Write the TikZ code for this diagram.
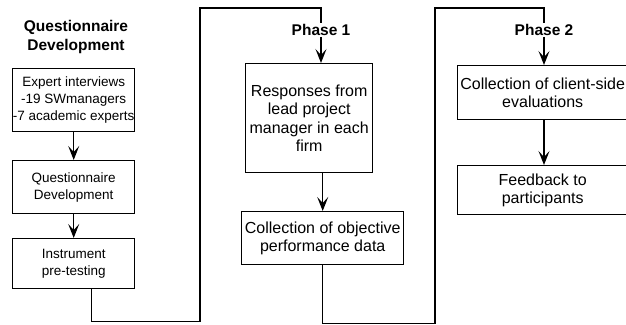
\documentclass[tikz,border=0pt]{standalone}
\usepackage{fontspec}
\setmainfont{Liberation Sans}
\usetikzlibrary{arrows.meta}
\begin{document}
\begin{tikzpicture}[x=1pt,y=-1pt,
  wire/.style={line width=1.4pt},
  arr/.style={wire,-{Stealth[length=14pt,width=11pt,inset=6pt]}},
  box/.style={draw,line width=1.4pt,align=center,inner sep=0pt,anchor=north west},
  lbox/.style={box,font=\fontsize{13.5}{17}\selectfont},
  rbox/.style={box,font=\fontsize{16}{18.2}\selectfont},
  head/.style={align=center,inner sep=1pt,font=\bfseries\fontsize{15.5}{19.5}\selectfont},
]
\fill[white] (0,0) rectangle (626,324);
\useasboundingbox (0,0) rectangle (626,324);

% questionnaire development column
\node[head] (t) at (76,37) {Questionnaire\\Development};
\node[lbox,minimum width=122,minimum height=63] (b1) at (12,68) {Expert interviews\\-19 SWmanagers\\-7 academic experts};
\node[lbox,minimum width=122,minimum height=53] (b2) at (12,160) {Questionnaire\\Development};
\node[lbox,minimum width=122,minimum height=50] (b3) at (12,238) {Instrument\\pre-testing};

% phase 1 column
\node[head] (ph1) at (321,30) {Phase 1};
\node[rbox,minimum width=127,minimum height=109] (b4) at (245,63) {Responses from\\lead project\\manager in each\\firm};
\node[rbox,minimum width=162,minimum height=53] (b5) at (241,211) {Collection of objective\\performance data};

% phase 2 column
\node[head] (ph2) at (544,30) {Phase 2};
\node[rbox,minimum width=170,minimum height=54] (b6) at (457,65) {Collection of client-side\\evaluations};
\node[rbox,minimum width=170,minimum height=49] (b7) at (457,165) {Feedback to\\participants};

% arrows inside the columns
\draw[arr] (b1) -- (b2);
\draw[arr] (b2) -- (b3);
\draw[arr] (b5.north |- b4.south) -- (b5.north);
\draw[arr] (b6.south -| ph2) -- (b7.north -| ph2);

% links between the columns
\draw[wire] ([xshift=18pt]b3.south) -- ++(0,32) -| (200,8) -| (ph1.north);
\draw[arr] (ph1.south) -- (ph1.south |- b4.north);
\draw[wire] (b5.south) -- ++(0,58) -| (435,8) -| (ph2.north);
\draw[arr] (ph2.south) -- (ph2.south |- b6.north);
\end{tikzpicture}
\end{document}
